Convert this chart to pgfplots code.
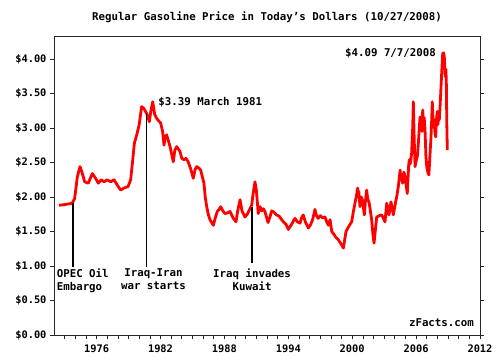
\documentclass[border=0pt]{standalone}
\usepackage{pgfplots}
\pgfplotsset{compat=1.18}
\usepackage{fontspec}
\setmainfont{DejaVu Sans Mono}
\begin{document}
\begin{tikzpicture}[font=\fontsize{10.8}{13.5}\selectfont\bfseries]
\path[use as bounding box] (0,0) rectangle (500bp,363bp);
\begin{axis}[
  at={(54bp,28bp)}, anchor=south west,
  scale only axis, width=426bp, height=299bp,
  xmin=1972, xmax=2012, ymin=0, ymax=4.333,
  axis line style={black!85, line width=0.8pt},
  tick style={black!85, line width=0.6pt},
  tick align=outside,
  major tick length=4bp, minor tick length=4bp,
  xtick={1976,1982,1988,1994,2000,2006,2012},
  minor xtick={1973,...,2011},
  xticklabels={1976,1982,1988,1994,2000,2006,2012},
  xtick pos=bottom,
  ytick={0,0.5,1,1.5,2,2.5,3,3.5,4},
  yticklabels={\$0.00,\$0.50,\$1.00,\$1.50,\$2.00,\$2.50,\$3.00,\$3.50,\$4.00},
  ytick pos=both, yticklabel pos=left,
  ticklabel style={font=\fontsize{10.4}{12}\selectfont\bfseries},
  xticklabel style={yshift=-2bp},
  clip=false,
]
\addplot[red, line width=2.8pt, line join=round] coordinates {
(1972.47,1.88)(1973.0,1.89)(1973.4,1.90)(1973.72,1.91)(1973.94,1.98)(1974.19,2.29)(1974.44,2.44)(1974.66,2.34)(1974.88,2.22)(1975.22,2.20)(1975.6,2.34)(1975.91,2.27)(1976.16,2.20)(1976.44,2.25)(1976.7,2.22)(1977.0,2.25)(1977.32,2.22)(1977.63,2.25)(1977.95,2.17)(1978.26,2.10)(1978.57,2.13)(1978.95,2.15)(1979.2,2.25)(1979.4,2.55)(1979.55,2.78)(1979.77,2.90)(1980.0,3.05)(1980.23,3.31)(1980.45,3.28)(1980.7,3.21)(1980.95,3.09)(1981.1,3.25)(1981.27,3.38)(1981.45,3.20)(1981.64,3.14)(1981.85,3.10)(1982.02,3.07)(1982.2,2.95)(1982.33,2.75)(1982.45,2.88)(1982.58,2.90)(1982.9,2.73)(1983.05,2.62)(1983.2,2.51)(1983.35,2.68)(1983.52,2.73)(1983.83,2.66)(1984.0,2.56)(1984.2,2.54)(1984.4,2.56)(1984.6,2.51)(1984.85,2.40)(1985.08,2.27)(1985.25,2.40)(1985.4,2.44)(1985.6,2.42)(1985.77,2.39)(1986.08,2.20)(1986.2,2.00)(1986.34,1.86)(1986.5,1.74)(1986.65,1.67)(1986.96,1.59)(1987.15,1.70)(1987.33,1.79)(1987.5,1.82)(1987.65,1.86)(1987.85,1.80)(1988.06,1.76)(1988.3,1.77)(1988.53,1.79)(1988.8,1.70)(1989.09,1.64)(1989.25,1.80)(1989.47,1.96)(1989.65,1.80)(1989.93,1.71)(1990.15,1.75)(1990.34,1.81)(1990.56,1.88)(1990.7,2.05)(1990.87,2.22)(1991.0,2.10)(1991.18,1.76)(1991.35,1.86)(1991.5,1.80)(1991.65,1.83)(1991.8,1.79)(1992.1,1.63)(1992.3,1.72)(1992.44,1.80)(1992.65,1.78)(1992.9,1.74)(1993.15,1.72)(1993.38,1.67)(1993.6,1.63)(1993.8,1.60)(1994.0,1.53)(1994.3,1.60)(1994.5,1.66)(1994.63,1.69)(1994.85,1.64)(1995.1,1.62)(1995.25,1.70)(1995.4,1.74)(1995.6,1.64)(1995.88,1.55)(1996.1,1.60)(1996.3,1.68)(1996.5,1.82)(1996.65,1.73)(1996.8,1.69)(1997.0,1.73)(1997.2,1.70)(1997.45,1.71)(1997.6,1.64)(1997.76,1.59)(1997.92,1.67)(1998.08,1.50)(1998.23,1.47)(1998.5,1.41)(1998.7,1.38)(1998.95,1.32)(1999.17,1.26)(1999.42,1.50)(1999.7,1.58)(1999.95,1.64)(2000.1,1.78)(2000.26,1.91)(2000.4,2.02)(2000.52,2.13)(2000.58,2.02)(2000.62,2.08)(2000.73,1.86)(2000.85,2.00)(2000.95,1.96)(2001.05,1.85)(2001.14,1.74)(2001.25,1.95)(2001.36,2.10)(2001.45,1.98)(2001.6,1.91)(2001.83,1.67)(2001.95,1.45)(2002.05,1.33)(2002.3,1.71)(2002.55,1.73)(2002.77,1.74)(2003.08,1.64)(2003.24,1.91)(2003.45,1.74)(2003.64,1.93)(2003.86,1.74)(2004.08,1.93)(2004.2,2.02)(2004.33,2.15)(2004.5,2.39)(2004.55,2.25)(2004.62,2.33)(2004.74,2.20)(2004.85,2.36)(2004.96,2.30)(2005.17,2.05)(2005.3,2.45)(2005.36,2.54)(2005.45,2.48)(2005.58,2.63)(2005.68,3.00)(2005.74,3.38)(2005.82,2.85)(2005.9,2.44)(2006.0,2.52)(2006.11,2.58)(2006.2,2.75)(2006.28,2.95)(2006.37,3.16)(2006.42,3.00)(2006.5,3.08)(2006.56,2.95)(2006.62,3.26)(2006.7,3.05)(2006.76,3.15)(2006.84,2.97)(2006.92,2.60)(2007.0,2.44)(2007.1,2.36)(2007.2,2.32)(2007.3,2.60)(2007.4,2.87)(2007.46,3.10)(2007.52,3.38)(2007.6,3.08)(2007.68,3.12)(2007.76,2.95)(2007.84,2.87)(2007.9,3.10)(2007.99,3.24)(2008.05,3.05)(2008.1,3.15)(2008.18,3.12)(2008.25,3.30)(2008.31,3.50)(2008.42,3.85)(2008.5,4.08)(2008.58,4.09)(2008.65,4.03)(2008.72,3.80)(2008.75,3.74)(2008.8,3.85)(2008.84,3.65)(2008.88,3.10)(2008.93,2.68)
};
\addplot[black, line width=1.5pt] coordinates {(1973.8,0.99)(1973.8,1.91)};
\addplot[black, line width=1.5pt] coordinates {(1980.7,0.99)(1980.7,3.21)};
\addplot[black, line width=1.5pt] coordinates {(1990.6,1.04)(1990.6,1.85)};
\node[anchor=north west, align=left, inner sep=0pt] at (axis cs:1972.25,0.97) {OPEC Oil\\Embargo};
\node[anchor=north, align=center, inner sep=0pt] at (axis cs:1981.34,0.97) {Iraq-Iran\\war starts};
\node[anchor=north, align=center, inner sep=0pt] at (axis cs:1990.6,0.97) {Iraq invades\\Kuwait};
\node[anchor=west, inner sep=0pt] at (axis cs:1981.79,3.38) {\$3.39 March 1981};
\node[anchor=west, inner sep=0pt] at (axis cs:1999.32,4.09) {\$4.09 7/7/2008};
\node[anchor=east, inner sep=0pt] at (axis cs:2011.44,0.18) {zFacts.com};
\node[anchor=center, inner sep=0pt] at (rel axis cs:0.5,1) [yshift=19bp] {Regular Gasoline Price in Today's Dollars (10/27/2008)};
\end{axis}
\end{tikzpicture}
\end{document}
